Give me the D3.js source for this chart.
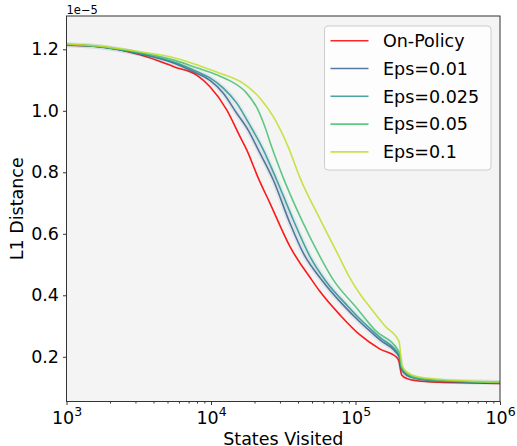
<html>
<head>
<meta charset="utf-8">
<style>
  body { margin: 0; background: #fff; }
  text { font-family: "DejaVu Sans", sans-serif; }
</style>
</head>
<body>
<div id="chart"></div>
<script src="https://cdnjs.cloudflare.com/ajax/libs/d3/7.8.5/d3.min.js"></script>
<script>
// states visited (x) and L1 distance in units of 1e-5 (y)
var onPolicyX = [1000, 1618, 3226, 5636, 7962, 9842, 12850, 15880, 17670, 21250, 25610, 35220, 49770, 56800, 78110, 107400, 147800, 192800, 200000, 208800, 227200, 265100, 384400, 620000, 1000000];
var onPolicyY = [1.213, 1.209, 1.182, 1.142, 1.116, 1.078, 1.003, 0.916, 0.873, 0.781, 0.699, 0.558, 0.450, 0.412, 0.336, 0.271, 0.225, 0.198, 0.185, 0.141, 0.129, 0.122, 0.117, 0.115, 0.113];

var eps01X = [1000, 1618, 3226, 5636, 7962, 9842, 12170, 15070, 18040, 21250, 26990, 35220, 43540, 58370, 82340, 107400, 147800, 200000, 208800, 227200, 265100, 384400, 620000, 1000000];
var eps01Y = [1.215, 1.209, 1.185, 1.154, 1.122, 1.099, 1.057, 0.992, 0.938, 0.873, 0.775, 0.634, 0.537, 0.450, 0.368, 0.313, 0.255, 0.201, 0.157, 0.139, 0.129, 0.121, 0.118, 0.116];

var eps025X = [1000, 1618, 3226, 5636, 7962, 9842, 12170, 15070, 18040, 23010, 28500, 37120, 48440, 61510, 89180, 107400, 147800, 200000, 208800, 227200, 265100, 384400, 620000, 1000000];
var eps025Y = [1.215, 1.209, 1.186, 1.157, 1.128, 1.107, 1.074, 1.025, 0.964, 0.873, 0.775, 0.645, 0.526, 0.450, 0.363, 0.323, 0.263, 0.206, 0.162, 0.143, 0.130, 0.122, 0.119, 0.116];

var eps05X = [1000, 1618, 3226, 5636, 7962, 10950, 13980, 17470, 21150, 23640, 26310, 31650, 43540, 56800, 70230, 99200, 136400, 200000, 208800, 227200, 265100, 384400, 620000, 1000000];
var eps05Y = [1.216, 1.210, 1.189, 1.164, 1.140, 1.117, 1.094, 1.060, 1.003, 0.947, 0.882, 0.782, 0.634, 0.526, 0.450, 0.365, 0.287, 0.217, 0.167, 0.146, 0.131, 0.123, 0.119, 0.117];

var eps1X = [1000, 1618, 3226, 5636, 8394, 10950, 16730, 21840, 26990, 34270, 41300, 56800, 74140, 91620, 107400, 126000, 160100, 200000, 209700, 226100, 265100, 384400, 620000, 1000000];
var eps1Y = [1.217, 1.211, 1.192, 1.172, 1.146, 1.126, 1.089, 1.041, 0.981, 0.882, 0.782, 0.648, 0.541, 0.456, 0.404, 0.361, 0.300, 0.250, 0.172, 0.151, 0.136, 0.126, 0.121, 0.118];

var seriesNames = ["On-Policy", "Eps=0.01", "Eps=0.025", "Eps=0.05", "Eps=0.1"];
var seriesColors = ["#ff0000", "#3b628f", "#2a9490", "#44bf70", "#bddf26"];
var yTicks = [0.2, 0.4, 0.6, 0.8, 1.0, 1.2];
var xTicks = [1e3, 1e4, 1e5, 1e6];
var xExponents = ["3", "4", "5", "6"];

(function () {
  var series = [
    {name: seriesNames[0], xs: onPolicyX, ys: onPolicyY, color: seriesColors[0], band: false},
    {name: seriesNames[1], xs: eps01X, ys: eps01Y, color: seriesColors[1], band: true},
    {name: seriesNames[2], xs: eps025X, ys: eps025Y, color: seriesColors[2], band: true},
    {name: seriesNames[3], xs: eps05X, ys: eps05Y, color: seriesColors[3], band: false},
    {name: seriesNames[4], xs: eps1X, ys: eps1Y, color: seriesColors[4], band: false}
  ];

  var width = 517, height = 446;
  var pLeft = 66.5, pRight = 500, pTop = 16, pBottom = 401.5;

  var svg = d3.select("#chart").append("svg")
    .attr("width", width)
    .attr("height", height);

  var x = d3.scaleLog().domain([1e3, 1e6]).range([pLeft, pRight]);
  var y = d3.scaleLinear().domain([0.0546, 1.3083]).range([pBottom, pTop]);

  // plot background
  svg.append("rect")
    .attr("x", pLeft).attr("y", pTop)
    .attr("width", pRight - pLeft).attr("height", pBottom - pTop)
    .style("fill", "#f4f4f4");

  svg.append("clipPath").attr("id", "plotclip")
    .append("rect")
    .attr("x", pLeft).attr("y", pTop)
    .attr("width", pRight - pLeft).attr("height", pBottom - pTop);

  var line = d3.line()
    .x(function (d) { return x(d[0]); })
    .y(function (d) { return y(d[1]); })
    .curve(d3.curveMonotoneX);

  var plot = svg.append("g").attr("clip-path", "url(#plotclip)");

  series.forEach(function (s) {
    var pts = s.xs.map(function (v, i) { return [v, s.ys[i]]; });
    // faint spread around the mean
    if (s.band) {
      plot.append("path")
        .attr("d", line(pts))
        .style("fill", "none")
        .style("stroke", s.color)
        .style("stroke-opacity", 0.09)
        .style("stroke-width", 5);
    }
    plot.append("path")
      .attr("d", line(pts))
      .style("fill", "none")
      .style("stroke", s.color)
      .style("stroke-opacity", s.name === "On-Policy" ? 0.9 : 0.85)
      .style("stroke-width", 1.6);
  });

  // axes
  var yAxis = d3.axisLeft(y)
    .tickValues(yTicks)
    .tickSize(3.5)
    .tickPadding(4)
    .tickFormat(d3.format(".1f"));

  var gy = svg.append("g")
    .attr("transform", "translate(" + pLeft + ",0)")
    .call(yAxis);
  gy.select(".domain").remove();
  gy.selectAll("text")
    .style("font-family", "DejaVu Sans")
    .style("font-size", "17.5px")
    .style("fill", "#000");
  gy.selectAll("line").style("stroke", "#333");

  var minorTicks = [];
  [1e3, 1e4, 1e5].forEach(function (d) {
    for (var k = 2; k <= 9; k++) minorTicks.push(d * k);
  });

  var xMinor = d3.axisBottom(x).tickValues(minorTicks).tickSize(2).tickFormat("");
  var gxm = svg.append("g")
    .attr("transform", "translate(0," + pBottom + ")")
    .call(xMinor);
  gxm.select(".domain").remove();
  gxm.selectAll("line").style("stroke", "#333");

  var xAxis = d3.axisBottom(x).tickValues(xTicks).tickSize(3.5).tickFormat("");
  var gx = svg.append("g")
    .attr("transform", "translate(0," + pBottom + ")")
    .call(xAxis);
  gx.select(".domain").remove();
  gx.selectAll("line").style("stroke", "#333");

  gx.selectAll(".tick").each(function (d, i) {
    var t = d3.select(this).append("text")
      .attr("y", 22)
      .attr("text-anchor", "middle")
      .style("font-family", "DejaVu Sans")
      .style("font-size", "17.5px")
      .style("fill", "#000");
    t.append("tspan").text("10");
    t.append("tspan")
      .attr("dy", -8)
      .style("font-size", "12.5px")
      .text(xExponents[i]);
  });

  // spines
  svg.append("rect")
    .attr("x", pLeft).attr("y", pTop)
    .attr("width", pRight - pLeft).attr("height", pBottom - pTop)
    .style("fill", "none")
    .style("stroke", "#333")
    .style("stroke-width", 1);

  // offset text
  svg.append("text")
    .attr("x", pLeft)
    .attr("y", 14)
    .style("font-size", "11.5px")
    .text("1e\u22125");

  // axis titles
  svg.append("text")
    .attr("x", (pLeft + pRight) / 2)
    .attr("y", 444.5)
    .attr("text-anchor", "middle")
    .style("font-size", "17.5px")
    .text("States Visited");

  svg.append("text")
    .attr("transform", "translate(22.5," + (pTop + pBottom) / 2 + ") rotate(-90)")
    .attr("text-anchor", "middle")
    .style("font-size", "17.5px")
    .text("L1 Distance");

  // legend
  var legend = svg.append("g");
  legend.append("rect")
    .attr("x", 324.5).attr("y", 26)
    .attr("width", 166.5).attr("height", 144)
    .attr("rx", 3.5).attr("ry", 3.5)
    .style("fill", "#fff")
    .style("fill-opacity", 0.8)
    .style("stroke", "#cccccc")
    .style("stroke-width", 1);

  series.forEach(function (s, i) {
    var ly = 40.7 + i * 27.8;
    legend.append("line")
      .attr("x1", 330.5).attr("x2", 368.5)
      .attr("y1", ly).attr("y2", ly)
      .style("stroke", s.color)
      .style("stroke-opacity", 0.85)
      .style("stroke-width", 1.6);
    legend.append("text")
      .attr("x", 383)
      .attr("y", ly + 6.3)
      .style("font-size", "17.5px")
      .text(s.name);
  });
})();
</script>
</body>
</html>
